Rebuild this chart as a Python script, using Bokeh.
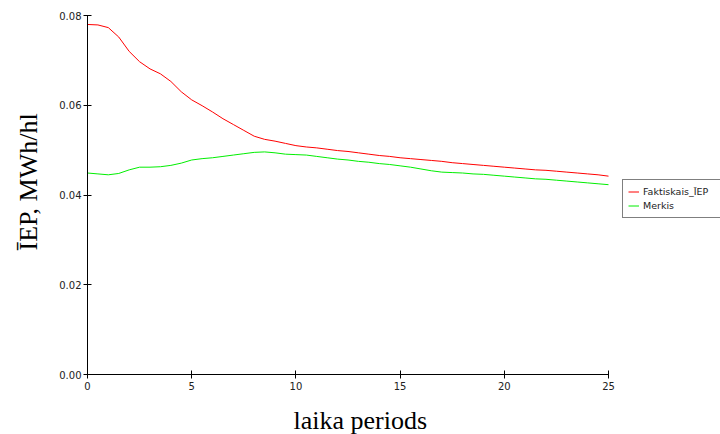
from bokeh.plotting import figure
from bokeh.models import Range1d, FixedTicker, NumeralTickFormatter, Legend, LegendItem, Title
from bokeh.embed import file_html
from bokeh.resources import INLINE

periods = [i * 0.5 for i in range(51)]
faktiskais = [0.0780, 0.0779, 0.0773, 0.0752, 0.0720, 0.0697, 0.0681, 0.0670, 0.0653, 0.0630,
              0.0612, 0.0599, 0.0585, 0.0570, 0.0557, 0.0544, 0.0531, 0.0524, 0.0520, 0.0515,
              0.0510, 0.0507, 0.0505, 0.0502, 0.0499, 0.0497, 0.0494, 0.0491, 0.0488, 0.0486,
              0.0483, 0.0481, 0.0479, 0.0477, 0.0475, 0.0472, 0.0470, 0.0468, 0.0466, 0.0464,
              0.0462, 0.0460, 0.0458, 0.0456, 0.0455, 0.0453, 0.0451, 0.0449, 0.0447, 0.0445,
              0.0442]
merkis = [0.0449, 0.0447, 0.0445, 0.0448, 0.0456, 0.0462, 0.0462, 0.0463, 0.0466, 0.0471,
          0.0478, 0.0481, 0.0483, 0.0486, 0.0489, 0.0492, 0.0495, 0.0496, 0.0494, 0.0491,
          0.0490, 0.0489, 0.0486, 0.0483, 0.0480, 0.0478, 0.0475, 0.0473, 0.0470, 0.0468,
          0.0465, 0.0462, 0.0458, 0.0454, 0.0451, 0.0450, 0.0449, 0.0447, 0.0446, 0.0444,
          0.0442, 0.0440, 0.0438, 0.0436, 0.0435, 0.0433, 0.0431, 0.0429, 0.0427, 0.0425,
          0.0423]
x_ticks = [0, 5, 10, 15, 20, 25]
y_ticks = [0.0, 0.02, 0.04, 0.06, 0.08]
series_names = ["Faktiskais_ĪEP", "Merkis"]
x_label = "laika periods"
y_label = "ĪEP, MWh/hl"
x_min, x_max = 0, 25

# frame spans to the right canvas edge so the legend can live inside it;
# the x axis itself is bounded to [0, 25]
p = figure(width=720, height=434, output_backend="svg", toolbar_location=None,
           x_range=Range1d(x_min, x_max * 633 / 521), y_range=Range1d(0, 0.08),
           min_border_left=87, min_border_right=0, min_border_top=15, min_border_bottom=58)
p.outline_line_color = None
p.xgrid.visible = False
p.ygrid.visible = False

r1 = p.line(periods, faktiskais, line_color="#ff0000", line_width=1)
r2 = p.line(periods, merkis, line_color="#00ee00", line_width=1)

for ax in (p.xaxis[0], p.yaxis[0]):
    ax.axis_line_color = "black"
    ax.major_tick_line_color = "black"
    ax.major_tick_in = 4
    ax.major_tick_out = 4
    ax.minor_tick_line_color = None
    ax.major_label_text_font = "DejaVu Sans"
    ax.major_label_text_font_size = "10px"
    ax.major_label_text_color = "#222222"

p.xaxis.bounds = (x_min, x_max)
p.xaxis.ticker = FixedTicker(ticks=x_ticks)
p.yaxis.ticker = FixedTicker(ticks=y_ticks)
p.yaxis.formatter = NumeralTickFormatter(format="0.00")
p.xaxis.major_label_standoff = 3
p.yaxis.major_label_standoff = 2
# invisible spacer label so the x title sits lower
p.xaxis.axis_label = " "
p.xaxis.axis_label_text_font_size = "5px"
p.xaxis.axis_label_standoff = 2

xt = Title(text=x_label, align="left", offset=206, standoff=0,
           text_font="Liberation Serif", text_font_size="26px", text_font_style="normal",
           text_color="black")
p.add_layout(xt, "below")
yt = Title(text=y_label, align="left", offset=124, standoff=24, vertical_align="top",
           text_font="Liberation Serif", text_font_size="26px", text_font_style="normal",
           text_color="black")
p.add_layout(yt, "left")

legend = Legend(items=[LegendItem(label=series_names[0], renderers=[r1]),
                       LegendItem(label=series_names[1], renderers=[r2])],
                location=(535, 156), orientation="vertical")
legend.label_text_font = "DejaVu Sans"
legend.label_text_font_size = "9.5px"
legend.label_text_color = "#222222"
legend.glyph_width = 11
legend.glyph_height = 13
legend.label_height = 13
legend.label_width = 82
legend.spacing = 1
legend.padding = 5
legend.margin = 0
legend.label_standoff = 4
legend.border_line_color = "black"
legend.border_line_width = 1
legend.background_fill_alpha = 1
p.add_layout(legend, "center")

open("out.html", "w").write(file_html(p, INLINE))
